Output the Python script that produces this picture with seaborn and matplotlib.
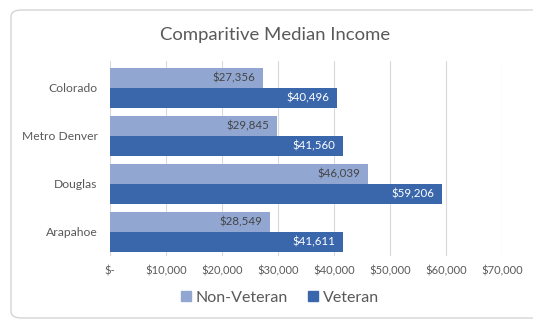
import matplotlib
matplotlib.use("Agg")
import matplotlib.pyplot as plt
from matplotlib.patches import FancyBboxPatch
from matplotlib.ticker import FuncFormatter
import seaborn as sns
import pandas as pd

regions = ["Colorado", "Metro Denver", "Douglas", "Arapahoe"]
non_veteran = [27356, 29845, 46039, 28549]
veteran = [40496, 41560, 59206, 41611]
series_names = ["Non-Veteran", "Veteran"]
x_ticks = [0, 10000, 20000, 30000, 40000, 50000, 60000, 70000]

df = pd.DataFrame({
    "Region": regions * 2,
    "Income": non_veteran + veteran,
    "Group": [series_names[0]] * len(regions) + [series_names[1]] * len(regions),
})

sns.set_theme(style="white")
plt.rcParams["font.family"] = ["Lato", "DejaVu Sans"]

colors = {"Non-Veteran": "#91A7D2", "Veteran": "#3A67AC"}

fig = plt.figure(figsize=(5.33, 3.24), dpi=100)
fig.patch.set_facecolor("white")

# rounded chart frame
frame = FancyBboxPatch((11 / 533, 6 / 324), 540 / 533, 308 / 324,
                       boxstyle="round,pad=0,rounding_size=0.02",
                       transform=fig.transFigure, facecolor="none",
                       edgecolor="#D0D0D0", linewidth=0.9, zorder=-1)
fig.patches.append(frame)

ax = fig.add_axes([110 / 533, 1 - 256 / 324, 392 / 533, 195 / 324])
ax.set_facecolor("none")

sns.barplot(data=df, y="Region", x="Income", hue="Group", orient="h",
            order=regions, hue_order=series_names, palette=colors,
            saturation=1, width=0.835, linewidth=0, ax=ax, legend=False, zorder=2)

ax.set_xlim(0, 70000)
ax.set_ylim(3.5, -0.56)
ax.set_xticks(x_ticks)
ax.xaxis.set_major_formatter(FuncFormatter(lambda v, p: "$-" if v == 0 else f"${v:,.0f}"))
ax.grid(axis="x", color="#D9D9D9", linewidth=0.8, zorder=0)
ax.grid(axis="y", visible=False)
ax.set_axisbelow(True)
for s in ax.spines.values():
    s.set_visible(False)
ax.tick_params(axis="both", length=0, colors="#595959")
ax.tick_params(axis="x", pad=7, labelsize=8)
ax.tick_params(axis="y", pad=9, labelsize=8.7)
ax.set_xlabel("")
ax.set_ylabel("")

# value labels right-aligned just inside the end of each bar
label_colors = ["#444444", "white"]
for container, lc in zip(ax.containers, label_colors):
    anns = ax.bar_label(container, labels=[f"${w:,.0f}" for w in container.datavalues],
                        label_type="edge", padding=-5.5, color=lc, fontsize=8.3)
    for a in anns:
        a.set_ha("right")

fig.text(275 / 533, 1 - 35 / 324, "Comparitive Median Income", ha="center", va="center",
         fontsize=13.3, color="#595959")

handles = [plt.Rectangle((0, 0), 1, 1, color=colors[n]) for n in series_names]
fig.legend(handles, series_names, loc="center", bbox_to_anchor=(280 / 533, 1 - 298 / 324),
           ncol=2, frameon=False, fontsize=11.5, handlelength=0.6, handleheight=0.6,
           handletextpad=0.3, columnspacing=1.3, labelcolor="#595959")

fig.savefig("out.png", dpi=100, facecolor="white")
